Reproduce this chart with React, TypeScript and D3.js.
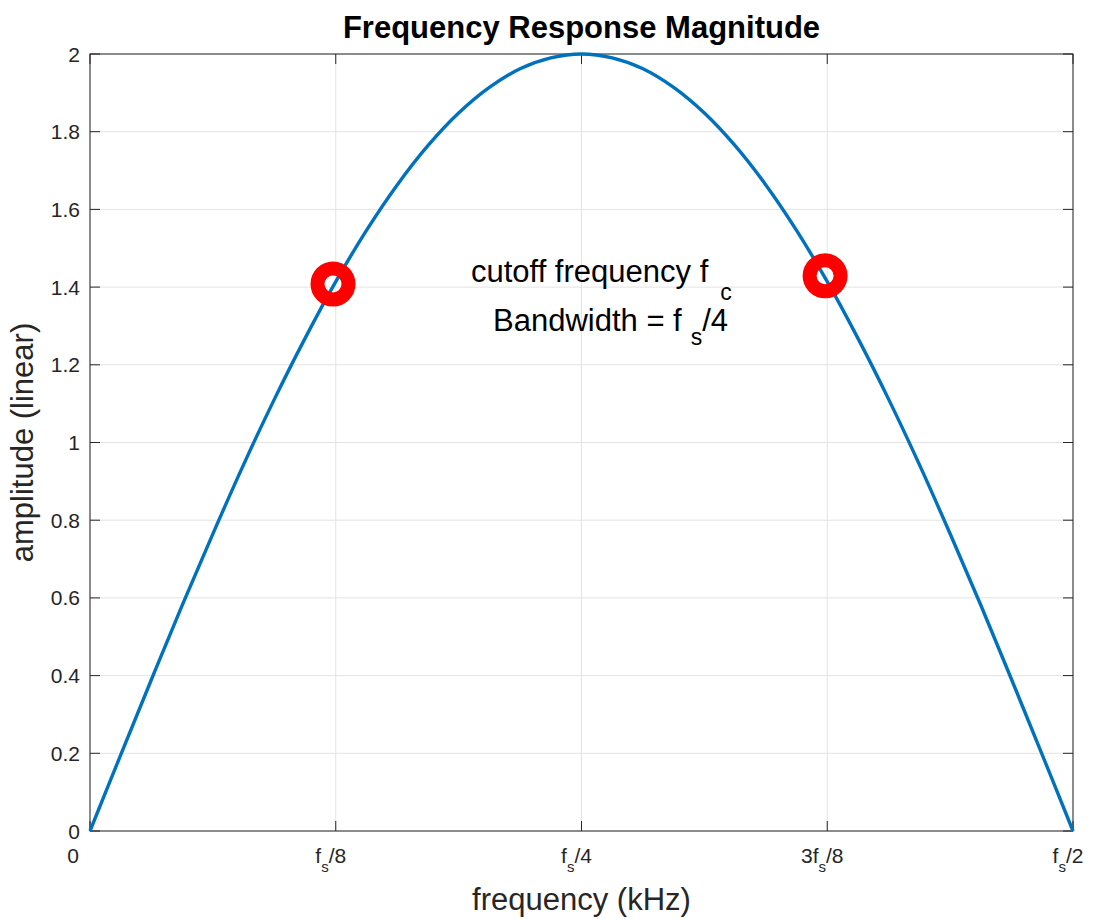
import React from "react";
import * as d3 from "d3";

const freqs = [0, 0.015625, 0.03125, 0.046875, 0.0625, 0.078125, 0.09375, 0.109375, 0.125, 0.140625, 0.15625, 0.171875, 0.1875, 0.203125, 0.21875, 0.234375, 0.25, 0.265625, 0.28125, 0.296875, 0.3125, 0.328125, 0.34375, 0.359375, 0.375, 0.390625, 0.40625, 0.421875, 0.4375, 0.453125, 0.46875, 0.484375, 0.5];
const amps = [0, 0.196, 0.39, 0.581, 0.765, 0.943, 1.111, 1.268, 1.414, 1.546, 1.663, 1.764, 1.848, 1.914, 1.962, 1.99, 2.0, 1.99, 1.962, 1.914, 1.848, 1.764, 1.663, 1.546, 1.414, 1.268, 1.111, 0.943, 0.765, 0.581, 0.39, 0.196, 0];
const markerFreqs = [0.1236, 0.3739];
const markerAmps = [1.408, 1.429];
const yTicks = [0, 0.2, 0.4, 0.6, 0.8, 1, 1.2, 1.4, 1.6, 1.8, 2];
const xTickVals = [0, 0.125, 0.25, 0.375, 0.5];
const xTickLabels: [string, string, string][] = [["0", "", ""], ["f", "s", "/8"], ["f", "s", "/4"], ["3f", "s", "/8"], ["f", "s", "/2"]];

const W = 1095, H = 919;
const L = 90, R = 1073, T = 54, B = 831;
const FONT = "'Liberation Sans', Arial, Helvetica, sans-serif";

export default function App() {
  const x = d3.scaleLinear().domain([0, 0.5]).range([L, R]);
  const y = d3.scaleLinear().domain([0, 2]).range([B, T]);
  const line = d3.line<number>().x((_, i) => x(freqs[i])).y((d) => y(d)).curve(d3.curveCatmullRom);
  const tickLen = 10;
  const axisColor = "#262626";
  return (
    <svg width={W} height={H} style={{ position: "absolute", left: 0, top: 0, background: "#fff" }} fontFamily={FONT}>
      <rect x={0} y={0} width={W} height={H} fill="#fff" />
      {yTicks.map((t) => (
        <line key={"gy" + t} x1={L} x2={R} y1={y(t)} y2={y(t)} stroke="#e3e3e3" strokeWidth={1} />
      ))}
      {xTickVals.map((t) => (
        <line key={"gx" + t} x1={x(t)} x2={x(t)} y1={T} y2={B} stroke="#e3e3e3" strokeWidth={1} />
      ))}
      <rect x={L} y={T} width={R - L} height={B - T} fill="none" stroke={axisColor} strokeWidth={1} />
      {yTicks.map((t) => (
        <g key={"ty" + t}>
          <line x1={L} x2={L + tickLen} y1={y(t)} y2={y(t)} stroke={axisColor} />
          <line x1={R} x2={R - tickLen} y1={y(t)} y2={y(t)} stroke={axisColor} />
          <text x={80} y={y(t)} dy="0.36em" textAnchor="end" fontSize={21} fill={axisColor}>{String(t)}</text>
        </g>
      ))}
      {xTickVals.map((t, i) => {
        const lab = xTickLabels[i];
        return (
          <g key={"tx" + t}>
            <line x1={x(t)} x2={x(t)} y1={B} y2={B - tickLen} stroke={axisColor} />
            <line x1={x(t)} x2={x(t)} y1={T} y2={T + tickLen} stroke={axisColor} />
            <text x={i === 0 ? x(t) - 17 : x(t) - 5} y={863} textAnchor="middle" fontSize={21} fill={axisColor}>
              {lab[0]}
              {lab[1] ? <tspan fontSize={15} dy={9}>{lab[1]}</tspan> : null}
              {lab[2] ? <tspan dy={-9}>{lab[2]}</tspan> : null}
            </text>
          </g>
        );
      })}
      <path d={line(amps) || ""} fill="none" stroke="#0072BD" strokeWidth={3.4} />
      {markerFreqs.map((f, i) => (
        <circle key={"m" + i} cx={x(f)} cy={y(markerAmps[i])} r={15.5} fill="none" stroke="#ff0000" strokeWidth={14} />
      ))}
      <text x={471} y={282} fontSize={31} fill="#000">
        cutoff frequency f<tspan fontSize={23} dx={12} dy={18}>c</tspan>
      </text>
      <text x={493} y={331} fontSize={31} fill="#000">
        Bandwidth = f<tspan fontSize={23} dx={9} dy={14}>s</tspan><tspan fontSize={31} dy={-14}>/4</tspan>
      </text>
      <text x={(L + R) / 2} y={38} textAnchor="middle" fontSize={31} fontWeight="bold" fill="#000">Frequency Response Magnitude</text>
      <text x={(L + R) / 2} y={910} textAnchor="middle" fontSize={31} fill={axisColor}>frequency (kHz)</text>
      <text transform={`translate(33, ${(T + B) / 2}) rotate(-90)`} textAnchor="middle" fontSize={31} fill={axisColor}>amplitude (linear)</text>
    </svg>
  );
}
